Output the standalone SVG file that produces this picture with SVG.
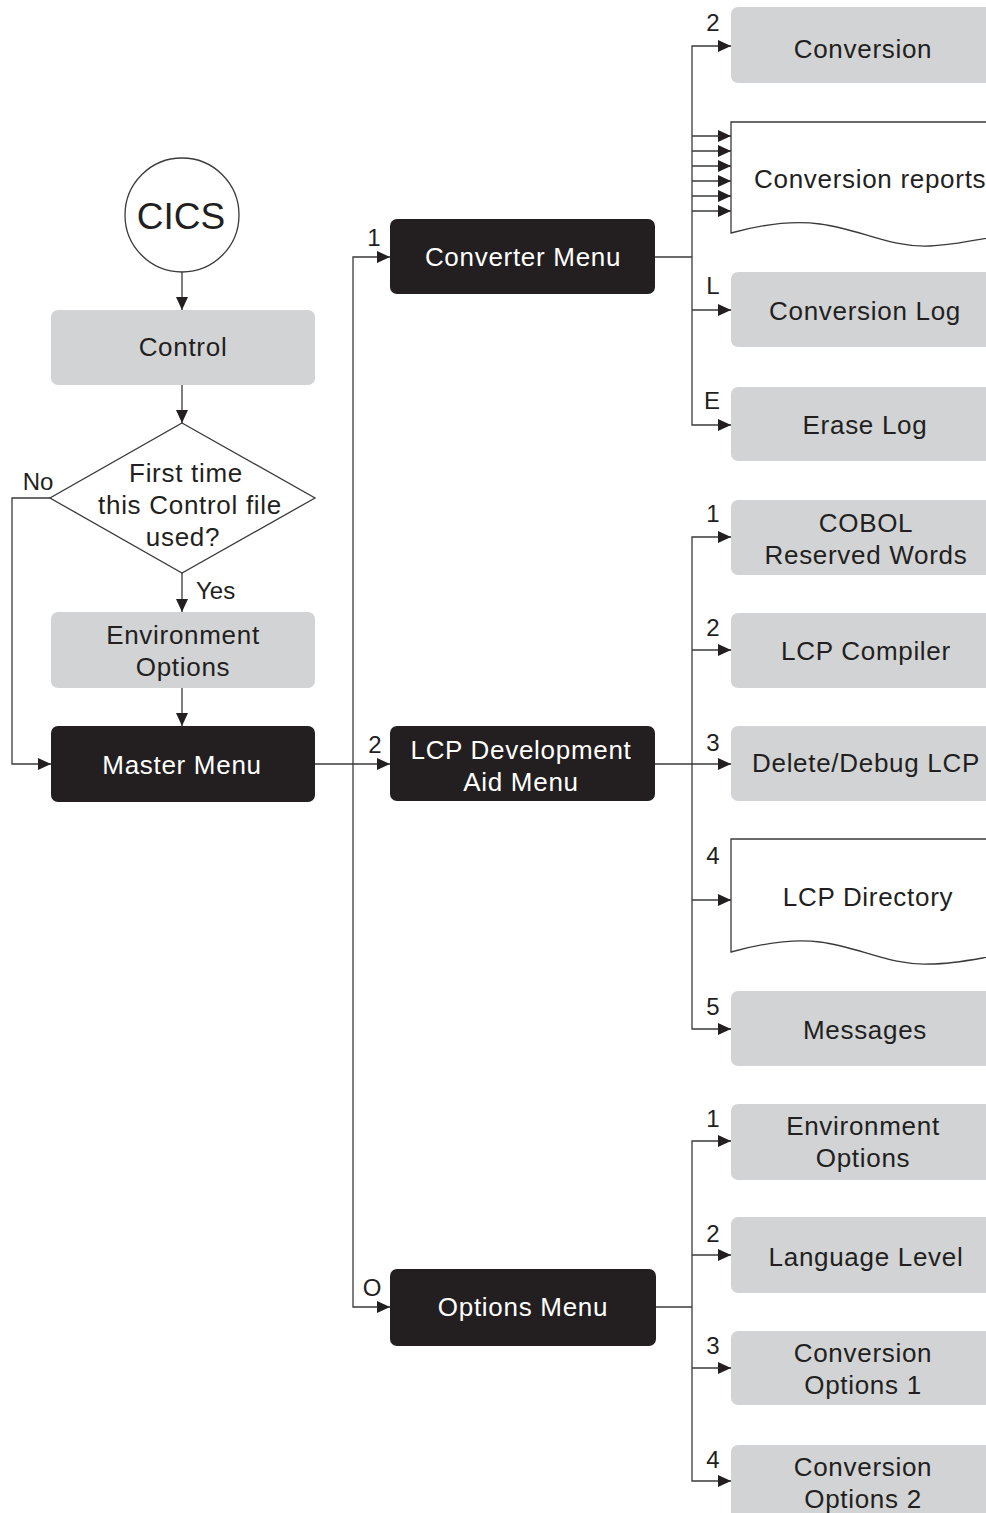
<svg xmlns="http://www.w3.org/2000/svg" width="986" height="1513" viewBox="0 0 986 1513">
<style>
.t{font-family:"Liberation Sans",Arial,sans-serif;font-size:26px;letter-spacing:0.7px;fill:#231f20}
.w{fill:#ffffff}
.lb{font-family:"Liberation Sans",Arial,sans-serif;font-size:24px;fill:#231f20}
.g{fill:#d1d3d4}
.k{fill:#231f20}
.c{fill:none;stroke:#3a3a3a;stroke-width:1.3}
.o{fill:#ffffff;stroke:#3a3a3a;stroke-width:1.3}
</style>
<defs>
<marker id="a" markerUnits="userSpaceOnUse" markerWidth="14" markerHeight="12" refX="13" refY="6" orient="auto">
<path d="M0,0 L13,6 L0,12 z" fill="#231f20"/>
</marker>
</defs>
<rect width="986" height="1513" fill="#ffffff"/>

<g id="connectors">
<path class="c" d="M182,272 V310" marker-end="url(#a)"/>
<path class="c" d="M182,385 V423" marker-end="url(#a)"/>
<path class="c" d="M182,573 V612" marker-end="url(#a)"/>
<path class="c" d="M182,688 V726" marker-end="url(#a)"/>
<path class="c" d="M50,498 H12 V764 H51" marker-end="url(#a)"/>
<path class="c" d="M315,764 H390" marker-end="url(#a)"/>
<path class="c" d="M353,764 V257 H390" marker-end="url(#a)"/>
<path class="c" d="M353,764 V1307 H390" marker-end="url(#a)"/>
<path class="c" d="M655,257 H692"/>
<path class="c" d="M692,257 V46 H731" marker-end="url(#a)"/>
<path class="c" d="M692,257 V425 H731" marker-end="url(#a)"/>
<path class="c" d="M692,310 H731" marker-end="url(#a)"/>
<path class="c" d="M692,136 H731" marker-end="url(#a)"/>
<path class="c" d="M692,151 H731" marker-end="url(#a)"/>
<path class="c" d="M692,166 H731" marker-end="url(#a)"/>
<path class="c" d="M692,181 H731" marker-end="url(#a)"/>
<path class="c" d="M692,196 H731" marker-end="url(#a)"/>
<path class="c" d="M692,211 H731" marker-end="url(#a)"/>
<path class="c" d="M655,764 H731" marker-end="url(#a)"/>
<path class="c" d="M692,764 V537 H731" marker-end="url(#a)"/>
<path class="c" d="M692,764 V1029 H731" marker-end="url(#a)"/>
<path class="c" d="M692,650 H731" marker-end="url(#a)"/>
<path class="c" d="M692,900 H731" marker-end="url(#a)"/>
<path class="c" d="M656,1307 H692"/>
<path class="c" d="M692,1307 V1141 H731" marker-end="url(#a)"/>
<path class="c" d="M692,1307 V1481 H731" marker-end="url(#a)"/>
<path class="c" d="M692,1255 H731" marker-end="url(#a)"/>
<path class="c" d="M692,1368 H731" marker-end="url(#a)"/>
</g>

<g id="labels">
<text class="lb" x="713" y="31" text-anchor="middle">2</text>
<text class="lb" x="713" y="294" text-anchor="middle">L</text>
<text class="lb" x="712" y="409" text-anchor="middle">E</text>
<text class="lb" x="713" y="522" text-anchor="middle">1</text>
<text class="lb" x="713" y="636" text-anchor="middle">2</text>
<text class="lb" x="713" y="751" text-anchor="middle">3</text>
<text class="lb" x="713" y="864" text-anchor="middle">4</text>
<text class="lb" x="713" y="1015" text-anchor="middle">5</text>
<text class="lb" x="713" y="1127" text-anchor="middle">1</text>
<text class="lb" x="713" y="1242" text-anchor="middle">2</text>
<text class="lb" x="713" y="1354" text-anchor="middle">3</text>
<text class="lb" x="713" y="1468" text-anchor="middle">4</text>
<text class="lb" x="374" y="246" text-anchor="middle">1</text>
<text class="lb" x="375" y="753" text-anchor="middle">2</text>
<text class="lb" x="372" y="1296" text-anchor="middle">O</text>
<text class="lb" x="38" y="490" text-anchor="middle">No</text>
<text class="lb" x="196" y="599">Yes</text>
</g>

<g id="cics">
<circle class="o" cx="182" cy="215" r="57"/>
<text x="181" y="229" text-anchor="middle" style="font-family:'Liberation Sans',Arial,sans-serif;font-size:37px;fill:#231f20">CICS</text>
</g>
<g id="control">
<rect class="g" x="51" y="310" width="264" height="75" rx="7"/>
<text class="t" x="183" y="356" text-anchor="middle">Control</text>
</g>
<g id="decision">
<polygon class="o" points="182,423 315,498 182,573 50,498"/>
<text class="t" x="186" y="482" text-anchor="middle">First time</text>
<text class="t" x="190" y="514" text-anchor="middle">this Control file</text>
<text class="t" x="183" y="546" text-anchor="middle">used?</text>
</g>
<g id="env-left">
<rect class="g" x="51" y="612" width="264" height="76" rx="7"/>
<text class="t" x="183" y="644" text-anchor="middle">Environment</text>
<text class="t" x="183" y="676" text-anchor="middle">Options</text>
</g>
<g id="master">
<rect class="k" x="51" y="726" width="264" height="76" rx="7"/>
<text class="t w" x="182" y="774" text-anchor="middle">Master Menu</text>
</g>
<g id="converter-menu">
<rect class="k" x="390" y="219" width="265" height="75" rx="7"/>
<text class="t w" x="523" y="266" text-anchor="middle">Converter Menu</text>
</g>
<g id="lcp-menu">
<rect class="k" x="390" y="726" width="265" height="75" rx="7"/>
<text class="t w" x="521" y="759" text-anchor="middle">LCP Development</text>
<text class="t w" x="521" y="791" text-anchor="middle">Aid Menu</text>
</g>
<g id="options-menu">
<rect class="k" x="390" y="1269" width="266" height="77" rx="7"/>
<text class="t w" x="523" y="1316" text-anchor="middle">Options Menu</text>
</g>

<g id="conversion">
<rect class="g" x="731" y="7" width="290" height="76" rx="7"/>
<text class="t" x="863" y="58" text-anchor="middle">Conversion</text>
</g>
<g id="conversion-reports">
<path class="o" d="M731,233 V122 H1000 V236 C975,240 955,245 930,246 C890,248 860,229 820,224 C790,220 760,225 731,233 Z"/>
<text class="t" x="754" y="188">Conversion reports</text>
</g>
<g id="conversion-log">
<rect class="g" x="731" y="272" width="290" height="75" rx="7"/>
<text class="t" x="865" y="320" text-anchor="middle">Conversion Log</text>
</g>
<g id="erase-log">
<rect class="g" x="731" y="387" width="290" height="74" rx="7"/>
<text class="t" x="865" y="434" text-anchor="middle">Erase Log</text>
</g>
<g id="cobol">
<rect class="g" x="731" y="500" width="290" height="75" rx="7"/>
<text class="t" x="866" y="532" text-anchor="middle">COBOL</text>
<text class="t" x="866" y="564" text-anchor="middle">Reserved Words</text>
</g>
<g id="lcp-compiler">
<rect class="g" x="731" y="613" width="290" height="75" rx="7"/>
<text class="t" x="866" y="660" text-anchor="middle">LCP Compiler</text>
</g>
<g id="delete-debug">
<rect class="g" x="731" y="726" width="290" height="75" rx="7"/>
<text class="t" x="866" y="772" text-anchor="middle">Delete/Debug LCP</text>
</g>
<g id="lcp-directory">
<path class="o" d="M731,952 V839 H1000 V955 C975,959 955,964 930,964 C890,966 860,947 820,942 C790,938 760,944 731,952 Z"/>
<text class="t" x="868" y="906" text-anchor="middle">LCP Directory</text>
</g>
<g id="messages">
<rect class="g" x="731" y="991" width="290" height="75" rx="7"/>
<text class="t" x="865" y="1039" text-anchor="middle">Messages</text>
</g>
<g id="env-right">
<rect class="g" x="731" y="1104" width="290" height="76" rx="7"/>
<text class="t" x="863" y="1135" text-anchor="middle">Environment</text>
<text class="t" x="863" y="1167" text-anchor="middle">Options</text>
</g>
<g id="language-level">
<rect class="g" x="731" y="1217" width="290" height="76" rx="7"/>
<text class="t" x="866" y="1266" text-anchor="middle">Language Level</text>
</g>
<g id="conv-options-1">
<rect class="g" x="731" y="1331" width="290" height="74" rx="7"/>
<text class="t" x="863" y="1362" text-anchor="middle">Conversion</text>
<text class="t" x="863" y="1394" text-anchor="middle">Options 1</text>
</g>
<g id="conv-options-2">
<rect class="g" x="731" y="1445" width="290" height="80" rx="7"/>
<text class="t" x="863" y="1476" text-anchor="middle">Conversion</text>
<text class="t" x="863" y="1508" text-anchor="middle">Options 2</text>
</g>
</svg>
